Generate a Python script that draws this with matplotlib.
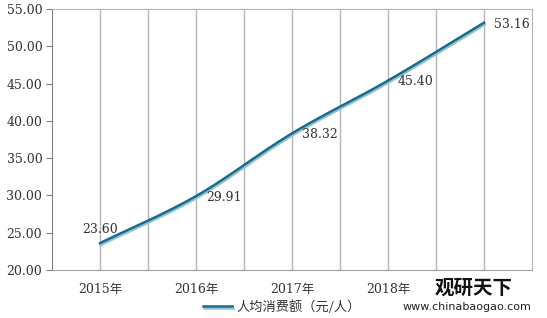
import numpy as np
import matplotlib.pyplot as plt
import matplotlib.patheffects as pe

plt.rcParams['font.family'] = ['DejaVu Serif', 'Noto Sans CJK SC', 'DejaVu Sans']

years = ['2015年', '2016年', '2017年', '2018年', '2019年']
values = [23.60, 29.91, 38.32, 45.40, 53.16]
series_name = '人均消费额（元/人）'


def smooth(x, y, n=30):
    # Catmull-Rom 平滑曲线（类似 Excel 平滑线）
    x = np.asarray(x, float)
    y = np.asarray(y, float)
    px = np.concatenate([[2 * x[0] - x[1]], x, [2 * x[-1] - x[-2]]])
    py = np.concatenate([[2 * y[0] - y[1]], y, [2 * y[-1] - y[-2]]])
    xs, ys = [], []
    t = np.linspace(0, 1, n)
    for i in range(1, len(px) - 2):
        for p, out in ((px, xs), (py, ys)):
            p0, p1, p2, p3 = p[i - 1], p[i], p[i + 1], p[i + 2]
            out.append(0.5 * (2 * p1 + (-p0 + p2) * t
                              + (2 * p0 - 5 * p1 + 4 * p2 - p3) * t ** 2
                              + (-p0 + 3 * p1 - 3 * p2 + p3) * t ** 3))
    return np.concatenate(xs), np.concatenate(ys)


fig = plt.figure(figsize=(5.47, 3.18), dpi=100)
ax = fig.add_axes([52 / 547, 48 / 318, 480 / 547, 261 / 318])

x = np.arange(len(years))

# 竖向网格线（每半个类别一条）
for gx in np.arange(0, 4.1, 0.5):
    ax.axvline(gx, color='#b4b4b4', lw=1, zorder=0)

sx, sy = smooth(x, values)
line, = ax.plot(sx, sy, color='#1f6a8a', lw=1.8, label=series_name,
                path_effects=[pe.SimpleLineShadow(offset=(0.6, -1.3), shadow_color='#8ec5d8', alpha=1),
                              pe.Normal()])

ax.set_xlim(-0.5, 4.5)
ax.set_ylim(20, 55)
ax.set_yticks(np.arange(20, 56, 5))
ax.set_yticklabels(['%.2f' % v for v in np.arange(20, 56, 5)])
ax.set_xticks(x)
ax.set_xticklabels(years)
ax.tick_params(axis='x', length=0, pad=9, labelsize=9, colors='#333333')
ax.tick_params(axis='y', length=4, direction='out', color='#808080', labelsize=9, colors='#333333', pad=3)

for s in ['top', 'right']:
    ax.spines[s].set_color('#b4b4b4')
ax.spines['left'].set_color('#808080')
ax.spines['bottom'].set_color('#a0a0a0')

# 数据标签
ax.annotate('%.2f' % values[0], (x[0], values[0]), xytext=(0, 5), textcoords='offset points',
            ha='center', va='bottom', fontsize=9, color='#333333')
for xi, v in zip(x[1:], values[1:]):
    ax.annotate('%.2f' % v, (xi, v), xytext=(7, -1), textcoords='offset points',
                ha='left', va='center', fontsize=9, color='#333333')

fig.legend(handles=[line], loc='center', bbox_to_anchor=(0.515, 0.035), frameon=False,
           fontsize=9.5, handlelength=2.2, handletextpad=0.3, labelcolor='#333333',
           prop={'family': 'Noto Sans CJK SC', 'size': 9.5})

# 水印
fig.text(0.795, 0.095, '观研天下', fontsize=14, fontweight='bold', family='Noto Sans CJK SC',
         ha='left', va='center', color='#111111',
         bbox=dict(facecolor='white', edgecolor='none', pad=1))
fig.text(0.735, 0.035, 'www.chinabaogao.com', fontsize=8, family='DejaVu Sans',
         ha='left', va='center', color='#222222')

fig.savefig('out.png', dpi=100)
